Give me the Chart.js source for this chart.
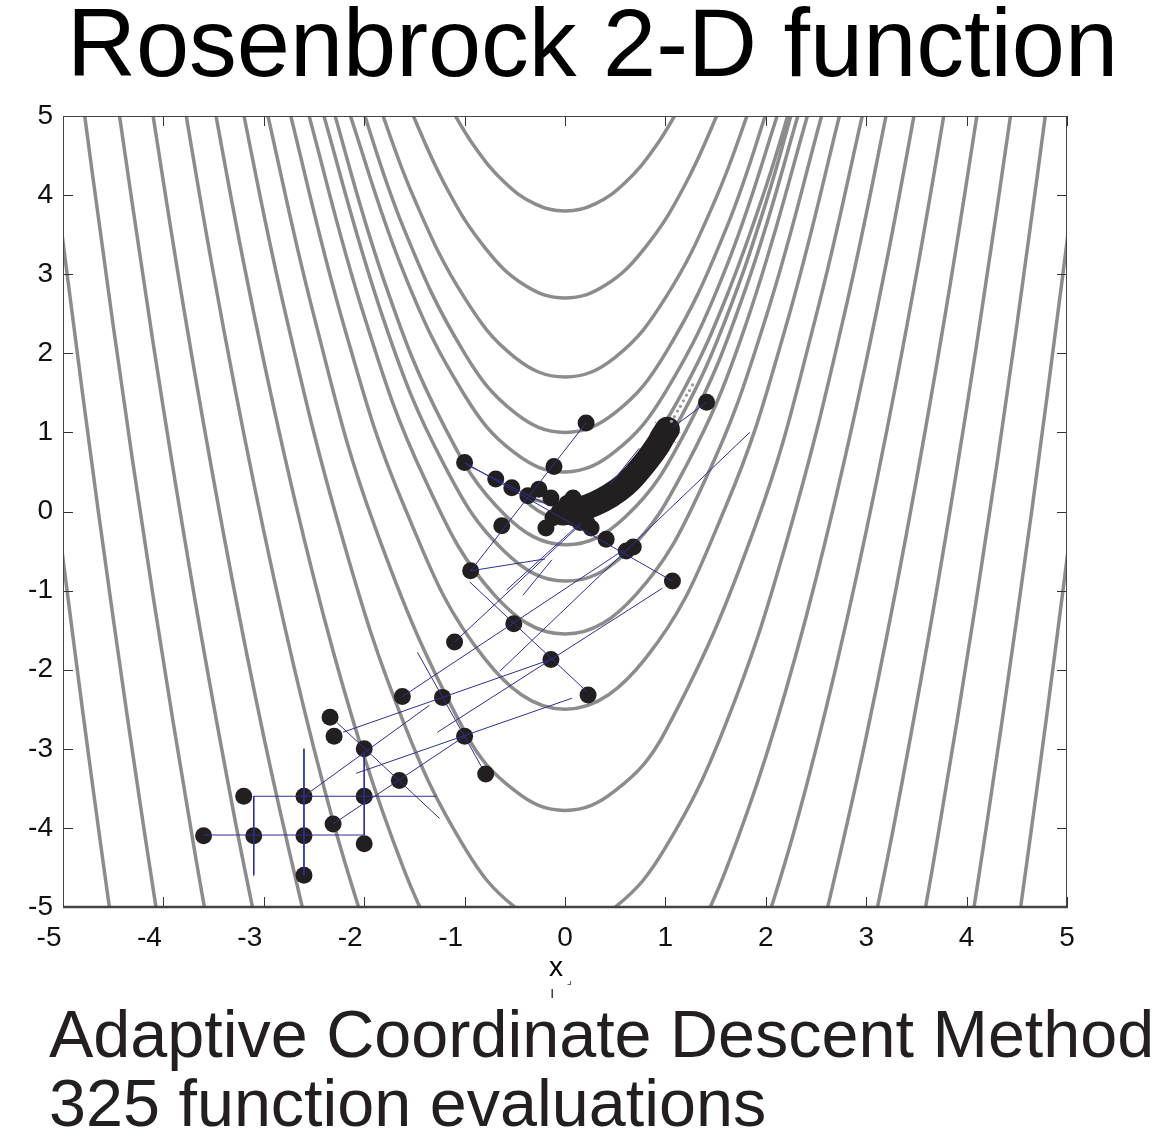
<!DOCTYPE html>
<html>
<head>
<meta charset="utf-8">
<script src="https://cdn.jsdelivr.net/npm/chart.js@4.4.1/dist/chart.umd.min.js"></script>
<style>
  body { margin: 0; background: #fff; }
  #wrap { position: relative; width: 1175px; height: 1140px; font-family: "Liberation Sans", Arial, sans-serif; color: #000; }
  #wrap canvas { position: absolute; left: 0; top: 0; }
  .txt { position: absolute; white-space: nowrap; }
  #title { left: 67px; top: -4px; font-size: 95.5px; line-height: 95.5px; }
  #cap1 { left: 49px; top: 1001px; font-size: 66.5px; line-height: 66.5px; color: #231f20; }
  #cap2 { left: 49px; top: 1070px; font-size: 66.5px; line-height: 66.5px; color: #231f20; }
  #xlab { left: 549px; top: 953px; font-size: 28px; line-height: 28px; }
  #xsub1 { left: 550px; top: 985px; font-size: 16px; line-height: 16px; color: #333; }
  #xsub2 { left: 567px; top: 975px; font-size: 11px; line-height: 11px; color: #333; font-family: "DejaVu Sans"; }
</style>
</head>
<body>
<div id="wrap">
  <canvas id="chart" width="1175" height="1140"></canvas>
  <div class="txt" id="title">Rosenbrock 2-D function</div>
  <div class="txt" id="xlab">x</div>
  <div class="txt" id="xsub1">ı</div>
  <div class="txt" id="xsub2">⌟</div>
  <div class="txt" id="cap1">Adaptive Coordinate Descent Method</div>
  <div class="txt" id="cap2">325 function evaluations</div>
</div>
<script>
'use strict';

// tick labels on both axes
const tickValues = [-5, -4, -3, -2, -1, 0, 1, 2, 3, 4, 5];

// contour lines as [x1, x2] points
const arcUp38 = [[-1.2, 5.24], [-0.9, 4.61], [-0.6, 4.16], [-0.3, 3.89], [0, 3.8], [0.3, 3.89], [0.6, 4.16], [0.9, 4.61], [1.2, 5.24]];
const arcUp27 = [[-1.6, 5.26], [-1.2, 4.14], [-0.8, 3.34], [-0.4, 2.86], [0, 2.7], [0.4, 2.86], [0.8, 3.34], [1.2, 4.14], [1.6, 5.26]];
const arcUp17 = [[-1.9, 5.31], [-1.5, 3.95], [-1.0, 2.7], [-0.5, 1.95], [0, 1.7], [0.5, 1.95], [1.0, 2.7], [1.5, 3.95], [1.9, 5.31]];
const arcUp10 = [[-2.1, 5.41], [-1.6, 3.56], [-1.0, 2.0], [-0.5, 1.25], [0, 1.0], [0.5, 1.25], [1.0, 2.0], [1.6, 3.56], [2.1, 5.41]];
const arcUp05 = [[-2.2, 5.24], [-1.6, 3.0], [-1.0, 1.47], [-0.5, 0.74], [0, 0.5], [0.5, 0.76], [1.0, 1.51], [1.6, 3.07], [2.2, 5.34]];
const loopInner = [[2.3, 5.35], [2.0, 4.1], [1.6, 2.69], [1.2, 1.58], [0.8, 0.78], [0.4, 0.29], [0, 0.1], [-0.2, 0.12], [-0.41, 0.17],
  [-0.2, -0.04], [0, -0.1], [0.4, 0.03], [0.8, 0.5], [1.2, 1.3], [1.6, 2.43], [2.0, 3.9], [2.3, 5.23]];
const arcLow04 = [[-2.4, 5.49], [-1.8, 2.91], [-1.2, 1.07], [-0.6, -0.04], [0, -0.42], [0.6, -0.07], [1.2, 1.01], [1.8, 2.82], [2.4, 5.35]];
const arcLow09 = [[-2.5, 5.44], [-1.8, 2.4], [-1.2, 0.58], [-0.6, -0.51], [0, -0.88], [0.6, -0.53], [1.2, 0.56], [1.8, 2.36], [2.5, 5.38]];
const arcLow16 = [[-2.6, 5.24], [-2.0, 2.47], [-1.4, 0.42], [-0.7, -1.06], [0, -1.55], [0.7, -1.06], [1.4, 0.41], [2.0, 2.45], [2.6, 5.21]];
const arcLow25 = [[-2.8, 5.35], [-2.2, 2.34], [-1.6, 0.06], [-0.8, -1.86], [0, -2.5], [0.8, -1.86], [1.6, 0.06], [2.2, 2.34], [2.8, 5.34]];
const arcLow38 = [[-3.0, 5.23], [-2.5, 2.47], [-1.9, -0.17], [-1.0, -2.78], [-0.5, -3.53], [0, -3.78], [0.5, -3.53], [1.0, -2.78], [1.9, -0.17], [2.5, 2.47], [3.0, 5.22]];
const arcLow52 = [[-3.3, 5.64], [-2.8, 2.59], [-2.2, -0.41], [-1.6, -2.69], [-1.0, -4.25], [-0.5, -5.0], [0, -5.25], [0.5, -5.0], [1.0, -4.25], [1.6, -2.69], [2.2, -0.41], [2.8, 2.59], [3.3, 5.64]];
const arcLeft71 = [[-3.6, 5.86], [-3.2, 3.14], [-2.8, 0.74], [-2.4, -1.34], [-2.0, -3.1], [-1.6, -4.54], [-1.3, -5.41]];
const arcRight71 = [[3.6, 5.86], [3.2, 3.14], [2.8, 0.74], [2.4, -1.34], [2.0, -3.1], [1.6, -4.54], [1.3, -5.41]];
const arcLeft92 = [[-3.9, 5.96], [-3.5, 3.0], [-3.1, 0.36], [-2.7, -1.96], [-2.3, -3.96], [-1.9, -5.64]];
const arcRight92 = [[3.9, 5.96], [3.5, 3.0], [3.1, 0.36], [2.7, -1.96], [2.3, -3.96], [1.9, -5.64]];
const arcLeft118 = [[-4.2, 5.79], [-3.8, 2.59], [-3.4, -0.29], [-3.0, -2.85], [-2.6, -5.09], [-2.4, -6.09]];
const arcRight118 = [[4.2, 5.79], [3.8, 2.59], [3.4, -0.29], [3.0, -2.85], [2.6, -5.09], [2.4, -6.09]];
const arcLeft147 = [[-4.5, 5.55], [-4.1, 2.11], [-3.7, -1.01], [-3.3, -3.81], [-3.0, -5.7]];
const arcRight147 = [[4.5, 5.55], [4.1, 2.11], [3.7, -1.01], [3.3, -3.81], [3.0, -5.7]];
const arcLeft179 = [[-4.9, 6.11], [-4.5, 2.35], [-4.1, -1.09], [-3.7, -4.21], [-3.5, -5.65]];
const arcRight179 = [[4.9, 6.11], [4.5, 2.35], [4.1, -1.09], [3.7, -4.21], [3.5, -5.65]];
const arcLeft216 = [[-5.1, 4.41], [-4.8, 1.44], [-4.5, -1.35], [-4.2, -3.96], [-4.0, -5.6]];
const arcRight216 = [[5.1, 4.41], [4.8, 1.44], [4.5, -1.35], [4.2, -3.96], [4.0, -5.6]];
const arcLeft256 = [[-5.1, 0.41], [-4.9, -1.59], [-4.7, -3.51], [-4.5, -5.35]];
const arcRight256 = [[5.1, 0.41], [4.9, -1.59], [4.7, -3.51], [4.5, -5.35]];

// evaluated points of the search
const pathDots = [
  [0.21, 1.12], [1.41, 1.38], [-1.0, 0.62], [-0.11, 0.57], [-0.69, 0.41], [-0.53, 0.30], [-0.37, 0.20], [-0.26, 0.28], [-0.14, 0.17], [0.08, 0.17],
  [-0.63, -0.18], [-0.19, -0.21], [-0.05, 0.0], [0.02, 0.1], [-0.12, -0.08], [0.08, -0.08], [0.15, -0.14], [0.22, -0.15],
  [0.26, -0.21], [0.41, -0.35], [0.61, -0.50], [0.68, -0.45], [1.07, -0.88], [-0.94, -0.75], [-0.51, -1.42], [-1.10, -1.65], [-0.14, -1.87], [0.23, -2.32],
  [-1.62, -2.34], [-1.22, -2.35], [-1.0, -2.84], [-0.79, -3.32], [-2.34, -2.60], [-2.30, -2.84], [-2.0, -3.0], [-1.65, -3.40],
  [-3.2, -3.6], [-2.6, -3.6], [-2.0, -3.6], [-2.31, -3.95], [-3.6, -4.1], [-3.1, -4.1], [-2.6, -4.1], [-2.0, -4.2], [-2.6, -4.6]
];
// dense run of evaluations along the valley floor
const valleyTrail = [[-0.02, -0.02], [0.15, 0.03], [0.3, 0.1], [0.45, 0.2], [0.6, 0.34], [0.72, 0.5], [0.83, 0.67], [0.92, 0.83], [0.98, 0.96], [1.02, 1.04]];
const overshootDots = [[1.06, 1.14], [1.09, 1.2], [1.12, 1.27], [1.15, 1.33], [1.18, 1.4], [1.21, 1.47], [1.24, 1.53], [1.27, 1.6]];
const optimum = [[1, 1]];

// trial steps (blue), [xStart, yStart, xEnd, yEnd]
const trialSegments = [
  [0.21, 1.12, -0.94, -0.75], [-1.0, 0.62, 1.07, -0.88], [-0.98, 0.59, -0.18, 0.09], [1.41, 1.38, 1.08, 1.07],
  [1.84, 1.0, -0.65, -2.02], [0.74, 0.80, 0.45, 0.34], [-0.95, -0.89, 0.22, -2.28], [-0.42, -1.06, -0.13, -0.61],
  [-0.58, -0.99, 0.15, -0.15], [-1.1, -1.65, 0.15, -0.17], [-1.62, -2.34, 0.58, -0.49], [0.97, -0.97, -1.27, -2.79],
  [-2.21, -2.79, -0.14, -1.87], [-2.08, -3.31, 0.07, -2.36], [-2.31, -3.95, -0.95, -2.80], [-2.6, -3.6, -1.35, -2.45],
  [-1.47, -1.78, -0.83, -3.23], [-2.27, -2.67, -1.25, -3.88], [-3.6, -4.09, -2.0, -4.09], [-3.1, -3.6, -3.1, -4.6],
  [-3.1, -3.6, -1.28, -3.6], [-2.6, -3.0, -2.6, -4.6], [-2.0, -3.06, -2.0, -4.09], [-0.94, -0.75, -0.2, -0.6]
];

const contours = [arcUp38, arcUp27, arcUp17, arcUp10, arcUp05, loopInner, arcLow04, arcLow09, arcLow16, arcLow25, arcLow38, arcLow52,
  arcLeft71, arcRight71, arcLeft92, arcRight92, arcLeft118, arcRight118, arcLeft147, arcRight147,
  arcLeft179, arcRight179, arcLeft216, arcRight216, arcLeft256, arcRight256];

const toPts = arr => arr.map(([x, y]) => ({ x: x, y: y }));

const datasets = [];
contours.forEach(c => {
  datasets.push({ data: toPts(c), showLine: true, borderColor: '#8c8c8c', borderWidth: 3.5, pointRadius: 0, tension: 0.4, order: 10 });
});
datasets.push({ data: toPts(optimum), pointStyle: 'star', pointRadius: 15, borderColor: 'rgba(230,70,70,0.85)', borderWidth: 1, backgroundColor: 'transparent', order: 8 });
datasets.push({ data: toPts(valleyTrail), showLine: true, borderColor: '#231f20', borderWidth: 25, borderCapStyle: 'round', borderJoinStyle: 'round', tension: 0.4, pointRadius: 0, order: 6 });
datasets.push({ data: toPts(pathDots), pointRadius: 8.5, backgroundColor: '#231f20', borderColor: '#231f20', borderWidth: 0, order: 5 });
datasets.push({ data: toPts(overshootDots), pointRadius: 1.6, backgroundColor: '#999', borderWidth: 0, order: 4 });
trialSegments.forEach(([x1, y1, x2, y2]) => {
  datasets.push({ data: [{ x: x1, y: y1 }, { x: x2, y: y2 }], showLine: true, borderColor: '#2e2e8f', borderWidth: 1, pointRadius: 0, order: 1 });
});

// box with inward ticks on all four sides
const frame = {
  id: 'frame',
  afterDatasetsDraw(chart) {
    const ctx = chart.ctx;
    const a = chart.chartArea;
    const sx = chart.scales.x, sy = chart.scales.y;
    ctx.save();
    ctx.strokeStyle = '#333';
    ctx.lineWidth = 1;
    ctx.beginPath();
    tickValues.forEach(v => {
      const px = Math.round(sx.getPixelForValue(v)) + 0.5;
      ctx.moveTo(px, a.bottom); ctx.lineTo(px, a.bottom - 10);
      ctx.moveTo(px, a.top); ctx.lineTo(px, a.top + 10);
      const py = Math.round(sy.getPixelForValue(v)) + 0.5;
      ctx.moveTo(a.left, py); ctx.lineTo(a.left + 10, py);
      ctx.moveTo(a.right, py); ctx.lineTo(a.right - 10, py);
    });
    ctx.stroke();
    ctx.strokeStyle = '#444';
    ctx.strokeRect(a.left + 0.5, a.top + 0.5, a.width - 1, a.height - 1);
    ctx.lineWidth = 2.5;
    ctx.beginPath();
    ctx.moveTo(a.left, a.bottom);
    ctx.lineTo(a.right + 1, a.bottom);
    ctx.stroke();
    ctx.restore();
  }
};

new Chart(document.getElementById('chart'), {
  type: 'scatter',
  data: { datasets: datasets },
  options: {
    responsive: false,
    animation: false,
    layout: { padding: { top: 116, right: 108, left: 0, bottom: 0 } },
    plugins: { legend: { display: false }, tooltip: { enabled: false } },
    scales: {
      x: {
        type: 'linear', min: -5, max: 5,
        afterBuildTicks: s => { s.ticks = tickValues.map(v => ({ value: v })); },
        afterFit: s => { s.height = 233; s.paddingLeft = 0; s.paddingRight = 0; },
        grid: { display: false, drawTicks: false },
        border: { display: false },
        // negative labels sit left of their tick, as in the original
        ticks: {
          font: { family: 'Liberation Sans', size: 28 }, color: '#111', padding: 14, maxRotation: 0, autoSkip: false,
          callback: v => v < 0 ? String(v) + '\u2002\u2002' : String(v)
        }
      },
      y: {
        type: 'linear', min: -5, max: 5,
        afterBuildTicks: s => { s.ticks = tickValues.map(v => ({ value: v })); },
        afterFit: s => { s.width = 63; s.paddingTop = 0; s.paddingBottom = 0; },
        grid: { display: false, drawTicks: false },
        border: { display: false },
        ticks: { font: { family: 'Liberation Sans', size: 28 }, color: '#111', padding: 10, autoSkip: false }
      }
    }
  },
  plugins: [frame]
});
</script>
</body>
</html>
